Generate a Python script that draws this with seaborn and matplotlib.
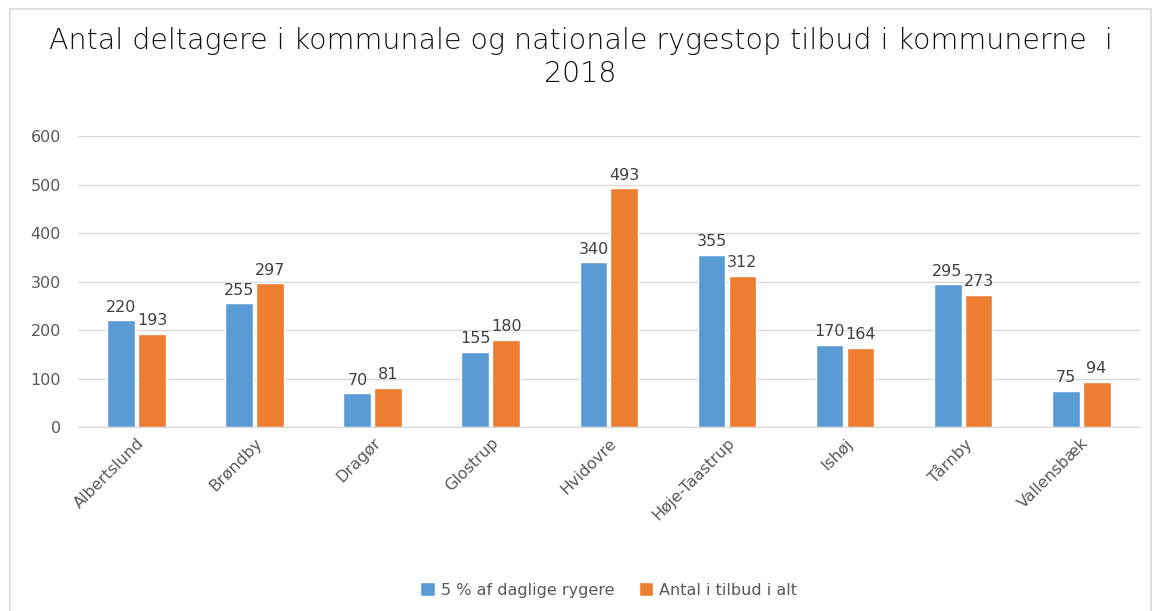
import pandas as pd
import matplotlib.pyplot as plt
import seaborn as sns
from matplotlib.patches import Rectangle

# Data
kommuner = ['Albertslund', 'Brøndby', 'Dragør', 'Glostrup', 'Hvidovre',
            'Høje-Taastrup', 'Ishøj', 'Tårnby', 'Vallensbæk']
daglige_rygere = [220, 255, 70, 155, 340, 355, 170, 295, 75]
tilbud_i_alt = [193, 297, 81, 180, 493, 312, 164, 273, 94]
serier = ['5 % af daglige rygere', 'Antal i tilbud i alt']

df = pd.DataFrame({
    'kommune': kommuner * 2,
    'serie': [serier[0]] * len(kommuner) + [serier[1]] * len(kommuner),
    'antal': daglige_rygere + tilbud_i_alt,
})

sns.set_style('white')
plt.rcParams['font.family'] = 'sans-serif'
plt.rcParams['font.sans-serif'] = ['DejaVu Sans']

fig = plt.figure(figsize=(11.61, 6.11), dpi=100)
ax = fig.add_axes([0.067, 0.301, 0.915, 0.476])

# ramme rundt om diagrammet
fig.patches.append(Rectangle((0.009, -0.01), 0.982, 0.995, transform=fig.transFigure,
                             fill=False, edgecolor='#D9D9D9', linewidth=1.2))

sns.barplot(data=df, x='kommune', y='antal', hue='serie',
            palette=['#5B9BD5', '#ED7D31'], width=0.525, gap=0.1,
            saturation=1, ax=ax, legend=True)

for c in ax.containers:
    ax.bar_label(c, padding=4, fontsize=11.5, color='#404040')

ax.set_ylim(0, 600)
ax.set_yticks(range(0, 601, 100))
ax.yaxis.grid(True, color='#D9D9D9', linewidth=1)
ax.set_axisbelow(True)
for s in ['top', 'right', 'left']:
    ax.spines[s].set_visible(False)
ax.spines['bottom'].set_color('#D9D9D9')
ax.tick_params(axis='both', length=0, labelsize=11.5, labelcolor='#595959')
ax.tick_params(axis='y', pad=12)
ax.tick_params(axis='x', pad=6)
plt.setp(ax.get_xticklabels(), rotation=45, ha='right', rotation_mode='anchor')
ax.set_xlabel('')
ax.set_ylabel('')

fig.suptitle('Antal deltagere i kommunale og nationale rygestop tilbud i kommunerne  i\n2018',
             y=0.955, fontsize=20.5, color='#111111', fontweight='light', linespacing=1.2)

ax.legend(loc='center', bbox_to_anchor=(0.5, -0.56), ncol=2, frameon=False,
          fontsize=11.5, handlelength=0.9, handleheight=0.9, handletextpad=0.4,
          columnspacing=1.5, labelcolor='#595959')

fig.savefig('out.png', dpi=100)
